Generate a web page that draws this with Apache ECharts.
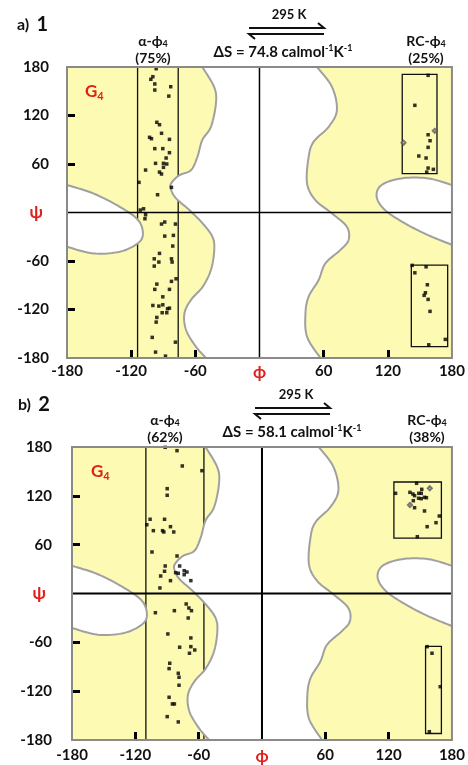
<!DOCTYPE html>
<html>
<head>
<meta charset="utf-8">
<script src="https://cdn.jsdelivr.net/npm/echarts@6/dist/echarts.min.js"></script>
<style>
  html, body { margin: 0; padding: 0; background: #fff; }
  #chart { width: 468px; height: 765px; }
</style>
</head>
<body>
<div id="chart"></div>
<script>
// axis ticks (degrees)
var angleTicks = [-180, -120, -60, 0, 60, 120, 180];
var minorTicks = [-120, -60, 60, 120];

// edges of the white (disallowed) regions, [phi, psi]
var midLeftEdge = [[-53.5,180],[-42.3,155],[-40.7,135],[-45.4,106],[-53.5,89.6],[-58,69],[-64,52.5],[-75,46],[-82.6,36],[-82.6,28],[-78,17.5],[-65.6,3],[-53.2,-13.4],[-44,-30],[-42.3,-46.5],[-45.4,-71],[-53.2,-92],[-64,-108],[-70.2,-125],[-68.6,-145.5],[-59.4,-166],[-50,-180]];
var midRightEdge = [[53.8,180],[67.7,155.6],[72.4,126.8],[64.7,106],[50.7,87.6],[46,69],[44.5,36],[52.3,15.4],[67.7,-1],[81.7,-17.6],[83.3,-34],[75.5,-46.5],[61.6,-63],[55.3,-83.6],[46,-104],[43,-125],[44.5,-153.7],[57,-180]];
var leftLobe = [[-180,34],[-155.5,23.7],[-130.7,7],[-113.7,-9],[-109,-26],[-113.7,-38],[-130.7,-48.5],[-155.5,-50.6],[-180,-42.4]];
var rightLobe = [[180,34],[157.7,42.2],[132.8,42.2],[114.2,34],[109.6,19.5],[117.4,3],[136,-13.4],[157.7,-28],[180,-40]];

// panel a (1)
var alphaLinesA = [-114, -76];
var rcBoxesA = [[133.5, 166, 48, 171], [142, 176, -166, -65]];
var alphaPtsA = [[-96.6,177.9],[-99.7,168],[-101.6,164.8],[-97.9,159],[-83,155.6],[-97.9,151.5],[-84.8,144],
  [-96,111.6],[-93.5,108.6],[-91.6,98],[-102.8,93],[-101,91.3],[-84.2,90.5],[-97.9,79],[-90.4,79],
  [-84.2,74],[-87.3,67.4],[-97.2,60.8],[-89.8,60.8],[-86.7,60],[-89.8,55.9],[-106.5,52.5],[-93.5,50],
  [-91.6,47.6],[-112.7,37.3],[-82.3,31.1],[-95.3,22],[-108.4,4.6],[-111.4,3],
  [-106.5,-2.8],[-107.1,-7.7],[-91.6,-14.3],[-88.6,-11.8],[-78.6,-14.3],[-88.6,-29.2],[-80.5,-28.3],
  [-81.1,-41.5],[-93.5,-50.6],[-98.4,-57.3],[-82.3,-57.3],[-94.1,-61.3],[-81.7,-61.3],[-98.4,-66.3],
  [-78,-82],[-82.3,-85.2],[-96,-88.6],[-97.9,-95.1],[-84.2,-95.1],[-90.4,-104.3],[-99.7,-115],
  [-94.1,-115.8],[-90.4,-114.2],[-84.2,-118.3],[-86,-119.1],[-91,-124],[-86.7,-124],[-96,-129.8],
  [-96.6,-135.6],[-100.3,-154.5],[-78.6,-160.4],[-97.2,-172.7],[-87.9,-177.7]];
var rcPtsA = [[157.7,169.7],[145.3,132.6],[157.7,96.2],[159.5,88.8],[157.7,80.6],[149,69.9],[155.8,67.4],[157.7,55],[162.6,53.4],[156.4,50],
  [155.8,-67.2],[145.3,-74.6],[142.8,-65.4],[157,-89.4],[155.2,-99.3],[154,-102.5],[157.7,-107.5],[159.5,-122.3],[173.8,-157],[158.3,-163.7]];
var rcOpenA = [[163.9,101],[134.7,86.3]];

// panel b (2)
var alphaLinesB = [-110, -55];
var rcBoxesB = [[125, 170, 68, 137], [155, 170, -172, -65]];
var alphaPtsB = [[-91.7,179.6],[-80.5,175.5],[-75.5,156.7],[-56.9,150.9],[-89.8,128.8],[-89.8,120.7],[-106,91.2],[-92.3,91.2],
  [-109.1,84.5],[-86.7,82.1],[-102.9,77.2],[-94.2,77.2],[-93,75.6],[-83.6,75.6],[-104.2,51],[-80.5,46.1],
  [-91.7,33.8],[-78,33.8],[-92.3,27.3],[-81.8,25.6],[-79.3,24.8],[-73.7,28],[-71.1,26.4],[-73.7,23.1],
  [-96,21.5],[-86.7,15.8],[-67.4,15.8],[-96.7,6.8],
  [-71.8,-12.9],[-69.3,-17.8],[-66.8,-21.1],[-101,-23.6],[-83,-21.1],[-69.9,-30.1],[-89.2,-49.7],[-67.4,-54.6],
  [-78,-66],[-67.4,-65.3],[-63.7,-69.4],[-68.7,-73.4],[-87.4,-85.7],[-88,-92.3],[-79.3,-98],[-78.6,-102.9],
  [-78.6,-112.7],[-88,-127.5],[-84.9,-135.7],[-83,-135.7],[-89.8,-151.3],[-79.3,-157.8]];
var rcPtsB = [[146.5,135.4],[126.6,123.1],[140.2,124.3],[143,122.3],[144.6,120.2],[148.6,123.1],[151.4,128],[150.9,123.1],
  [148.4,117],[150.9,116.5],[154,118.2],[155.8,117.7],[143.4,114],[144.6,105.4],[154,101.4],[168,95.2],[164.9,87],[156.5,82.1],[147.2,69.8],
  [156.5,-65.3],[161.1,-73.4],[168.9,-114.5],[158.6,-169.8]];
var rcOpenB = [[159,129.3],[140.2,108.7]];

var FONT = 'Lato, "Open Sans", "DejaVu Sans", sans-serif';
var YELLOW = '#fdfab4';

// catmull-rom through pixel points
function spline(pts, steps) {
  var out = [];
  for (var i = 0; i < pts.length - 1; i++) {
    var p0 = pts[i - 1] || pts[i], p1 = pts[i], p2 = pts[i + 1], p3 = pts[i + 2] || pts[i + 1];
    for (var t = 0; t < steps; t++) {
      var s = t / steps, s2 = s * s, s3 = s2 * s;
      var pt = [];
      for (var k = 0; k < 2; k++) {
        pt.push(0.5 * (2 * p1[k] + (-p0[k] + p2[k]) * s +
          (2 * p0[k] - 5 * p1[k] + 4 * p2[k] - p3[k]) * s2 +
          (-p0[k] + 3 * p1[k] - 3 * p2[k] + p3[k]) * s3));
      }
      out.push(pt);
    }
  }
  out.push(pts[pts.length - 1]);
  return out;
}

function regionItem(params, api) {
  var px = function (list) { return spline(list.map(function (p) { return api.coord(p); }), 10); };
  var l = px(midLeftEdge), r = px(midRightEdge), lo = px(leftLobe), ro = px(rightLobe);
  var edge = { fill: null, stroke: '#a0a0a0', lineWidth: 2 };
  return { type: 'group', children: [
    { type: 'polygon', shape: { points: l.concat(r.slice().reverse()) }, style: { fill: '#fff' } },
    { type: 'polygon', shape: { points: lo }, style: { fill: '#fff' } },
    { type: 'polygon', shape: { points: ro }, style: { fill: '#fff' } },
    { type: 'polyline', shape: { points: l }, style: edge },
    { type: 'polyline', shape: { points: r }, style: edge },
    { type: 'polyline', shape: { points: lo }, style: edge },
    { type: 'polyline', shape: { points: ro }, style: edge }
  ] };
}

function vLineItem(params, api) {
  var v = api.value(0);
  var a = api.coord([v, -180]), b = api.coord([v, 180]);
  return { type: 'line', shape: { x1: a[0], y1: a[1], x2: b[0], y2: b[1] }, style: { stroke: '#111', lineWidth: 1.3 } };
}

function crossItem(w) {
  return function (params, api) {
    var l = api.coord([-180, 0]), r = api.coord([180, 0]);
    var b = api.coord([0, -180]), t = api.coord([0, 180]);
    return { type: 'group', children: [
      { type: 'line', shape: { x1: l[0], y1: l[1], x2: r[0], y2: r[1] }, style: { stroke: '#000', lineWidth: w } },
      { type: 'line', shape: { x1: b[0], y1: b[1], x2: t[0], y2: t[1] }, style: { stroke: '#000', lineWidth: w } }
    ] };
  };
}

function boxItem(params, api) {
  var p1 = api.coord([api.value(0), api.value(3)]);
  var p2 = api.coord([api.value(1), api.value(2)]);
  return { type: 'rect', shape: { x: p1[0], y: p1[1], width: p2[0] - p1[0], height: p2[1] - p1[1] },
    style: { fill: null, stroke: '#111', lineWidth: 1.3 } };
}

function frameItem(params, api) {
  var p1 = api.coord([-180, 180]), p2 = api.coord([180, -180]);
  return { type: 'rect', shape: { x: p1[0], y: p1[1], width: p2[0] - p1[0], height: p2[1] - p1[1] },
    style: { fill: null, stroke: '#8a8a8a', lineWidth: 2 } };
}

function xAxisFor(g, margin) {
  return {
    gridIndex: g, type: 'value', min: -180, max: 180, interval: 60, position: 'bottom',
    axisLine: { show: false, onZero: false }, splitLine: { show: false },
    axisTick: { show: true, inside: true, customValues: minorTicks, length: 8, lineStyle: { color: '#000', width: 3 } },
    axisLabel: {
      customValues: angleTicks, margin: margin, fontSize: 15, fontWeight: 'bold', fontFamily: FONT, color: '#111',
      formatter: function (v) { return v === 0 ? '{r|ϕ}' : String(v); },
      rich: { r: { color: '#e0201b', fontSize: 17, fontWeight: 'bold', fontFamily: FONT } }
    }
  };
}

function yAxisFor(g, margin) {
  return {
    gridIndex: g, type: 'value', min: -180, max: 180, interval: 60, position: 'left',
    axisLine: { show: false, onZero: false }, splitLine: { show: false },
    axisTick: { show: true, inside: true, customValues: minorTicks, length: 8, lineStyle: { color: '#000', width: 3 } },
    axisLabel: {
      customValues: angleTicks, margin: margin, fontSize: 15, fontWeight: 'bold', fontFamily: FONT, color: '#111',
      formatter: function (v) { return v === 0 ? '{r|ψ}' : String(v); },
      rich: { r: { color: '#e0201b', fontSize: 17, fontWeight: 'bold', fontFamily: FONT, padding: [0, 6, 0, 0] } }
    }
  };
}

function panelSeries(g, alphaLines, boxes, alphaPts, rcPts, rcOpen, crossW) {
  var base = { xAxisIndex: g, yAxisIndex: g, silent: true, animation: false };
  var dot = { symbol: 'rect', symbolSize: 3.5, itemStyle: { color: '#000' } };
  return [
    Object.assign({ type: 'custom', z: 1, renderItem: vLineItem, data: alphaLines.map(function (v) { return [v, 0]; }) }, base),
    Object.assign({ type: 'custom', z: 2, clip: true, renderItem: regionItem, data: [[0, 0]] }, base),
    Object.assign({ type: 'custom', z: 3, renderItem: crossItem(crossW), data: [[0, 0]] }, base),
    Object.assign({ type: 'custom', z: 4, renderItem: boxItem, data: boxes, encode: { x: [0, 1], y: [2, 3] } }, base),
    Object.assign({ type: 'scatter', z: 5, data: alphaPts.concat(rcPts) }, dot, base),
    Object.assign({ type: 'scatter', z: 5, data: rcOpen, symbol: 'emptyDiamond', symbolSize: 4, itemStyle: { color: '#555', borderWidth: 1 } }, base),
    Object.assign({ type: 'custom', z: 6, renderItem: frameItem, data: [[0, 0]] }, base)
  ];
}

function txt(x, y, text, size, weight, align, rich, color) {
  return { type: 'text', x: x, y: y, silent: true, style: {
    text: text, font: (weight || 'bold') + ' ' + size + 'px ' + FONT, fill: color || '#111',
    align: align || 'center', verticalAlign: 'middle', rich: rich
  } };
}

var subRich = {
  m: { fontSize: 14, fontWeight: 'bold', fontFamily: FONT, lineHeight: 16, color: '#111' },
  s: { fontSize: 9, fontWeight: 'bold', fontFamily: FONT, lineHeight: 9, verticalAlign: 'bottom', color: '#111' }
};
var supRich = {
  m: { fontSize: 15, fontWeight: 'bold', fontFamily: FONT, lineHeight: 17, color: '#111' },
  p: { fontSize: 9, fontWeight: 'bold', fontFamily: FONT, lineHeight: 9, verticalAlign: 'top', color: '#111' }
};
var gRich = {
  g: { fontSize: 17, fontWeight: 'bold', fontFamily: FONT, lineHeight: 20, color: '#e0201b' },
  s: { fontSize: 11, fontWeight: 'bold', fontFamily: FONT, lineHeight: 11, verticalAlign: 'bottom', color: '#e0201b' }
};
var tagRich = {
  a: { fontSize: 16, fontWeight: 'bold', fontFamily: FONT, lineHeight: 20, color: '#111' },
  n: { fontSize: 20, fontWeight: 'bold', fontFamily: FONT, lineHeight: 20, color: '#111' }
};

function arrows(x1, x2, y) {
  var st = { stroke: '#111', lineWidth: 2, fill: null };
  return [
    { type: 'polyline', silent: true, shape: { points: [[x1, y], [x2, y], [x2 - 6, y - 5]] }, style: st },
    { type: 'polyline', silent: true, shape: { points: [[x2, y + 6], [x1, y + 6], [x1 + 6, y + 11]] }, style: st }
  ];
}

function header(tag, num, ty, kx, ky, ax, ay, dS, dx, dy, aPct, ax2, rPct, rx) {
  return [
    txt(tag === 'a' ? 17 : 18, ty, '{a|' + tag + ')}  {n|' + num + '}', 15, 'bold', 'left', tagRich),
    txt(kx, ky, '295 K', 13, 'bold'),
    txt(dx, dy, '{m|ΔS = ' + dS + ' calmol}{p|-1}{m|K}{p|-1}', 15, 'bold', 'center', supRich),
    txt(ax2, ay, '{m|α-ϕ}{s|4}', 14, 'bold', 'center', subRich),
    txt(ax2, ay + 17, '(' + aPct + '%)', 14, 'bold'),
    txt(rx, ay, '{m|RC-ϕ}{s|4}', 14, 'bold', 'center', subRich),
    txt(rx, ay + 17, '(' + rPct + '%)', 14, 'bold')
  ].concat(arrows(ax, ax + 75, ky + 13));
}

var chart = echarts.init(document.getElementById('chart'), null, { renderer: 'canvas' });

chart.setOption({
  backgroundColor: '#fff',
  animation: false,
  grid: [
    { left: 67, top: 67, width: 387, height: 291, show: true, backgroundColor: YELLOW, borderWidth: 0 },
    { left: 72, top: 447, width: 386, height: 293, show: true, backgroundColor: YELLOW, borderWidth: 0 }
  ],
  xAxis: [xAxisFor(0, 6), xAxisFor(1, 8)],
  yAxis: [yAxisFor(0, 18), yAxisFor(1, 20)],
  series: panelSeries(0, alphaLinesA, rcBoxesA, alphaPtsA, rcPtsA, rcOpenA, 1.5)
    .concat(panelSeries(1, alphaLinesB, rcBoxesB, alphaPtsB, rcPtsB, rcOpenB, 2)),
  graphic: header('a', '1', 25, 289, 15, 249, 41, '74.8', 283, 52, '75', 153, '25', 426)
    .concat(header('b', '2', 405, 296, 395, 255, 420, '58.1', 292, 432, '62', 165, '38', 427))
    .concat([
      txt(85, 92, '{g|G}{s|4}', 17, 'bold', 'left', gRich, '#e0201b'),
      txt(91, 472, '{g|G}{s|4}', 17, 'bold', 'left', gRich, '#e0201b')
    ])
});
</script>
</body>
</html>
